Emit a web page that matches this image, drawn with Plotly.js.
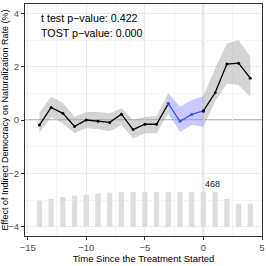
<!DOCTYPE html>
<html><head><meta charset="utf-8">
<script src="https://cdn.plot.ly/plotly-3.0.1.min.js"></script>
<style>body{margin:0;padding:0;}#chart{width:266px;height:266px;}</style>
</head><body><div id="chart"></div>
<script>
const periods = [-14,-13,-12,-11,-10,-9,-8,-7,-6,-5,-4,-3,-2,-1,0,1,2,3,4];
const att   = [-0.19,0.47,0.25,-0.24,0.00,-0.05,-0.09,0.22,-0.36,-0.16,-0.16,0.61,-0.05,0.21,0.34,1.02,2.10,2.13,1.57];
const lower = [-0.48,0.10,-0.12,-0.50,-0.30,-0.35,-0.42,-0.19,-0.69,-0.50,-0.50,0.25,-0.44,-0.19,-0.25,0.69,1.37,1.31,0.87];
const upper = [0.27,0.87,0.65,0.12,0.30,0.30,0.25,0.44,0.00,0.12,0.15,1.00,0.50,0.75,0.90,1.93,2.87,3.00,2.37];
const counts = [352,374,401,419,432,450,459,468,468,468,468,468,468,468,468,468,374,307,307];
const placeboStart = -3, placeboEnd = 0;
const pText1 = "t test p\u2212value: 0.422";
const pText2 = "TOST p\u2212value: 0.000";
const xTicks = [-15,-10,-5,0,5];
const yTicks = [-4,-2,0,2,4];

const barBase = -4, barMaxH = 1.3;
const maxCount = Math.max(...counts);
const F = '"Liberation Sans", Arial, sans-serif';

function seg(a, lo, hi){ const o=[]; periods.forEach((p,i)=>{ if(p>=lo && p<=hi) o.push(a[i]); }); return o; }
function band(lo, hi, color){
  const xs = seg(periods,lo,hi), u = seg(upper,lo,hi), l = seg(lower,lo,hi);
  return {x: xs.concat(xs.slice().reverse()), y: u.concat(l.slice().reverse()), type:'scatter', mode:'lines',
    fill:'toself', fillcolor:color, line:{width:0}, hoverinfo:'skip', showlegend:false};
}
function line(lo, hi, color, mk){
  return {x: seg(periods,lo,hi), y: seg(att,lo,hi), type:'scatter', mode: mk?'lines+markers':'lines',
    line:{color:color, width:1.3}, marker:{size:3, color:color}, showlegend:false};
}
const traces = [
  {x: periods, y: counts.map(c=>c/maxCount*barMaxH), base: barBase, type:'bar', width:0.45,
   marker:{color:'#dedede'}, showlegend:false},
  band(-14, placeboStart, 'rgba(160,160,160,0.45)'),
  band(placeboStart, placeboEnd, 'rgba(120,120,255,0.4)'),
  band(placeboEnd, 4, 'rgba(160,160,160,0.45)'),
  line(-14, placeboStart, '#000000', true),
  line(placeboStart, placeboEnd, '#3355ee', true),
  line(placeboEnd, 4, '#000000', true),
];
const layout = {
  width:266, height:266, margin:{l:25,r:4,t:4,b:30},
  paper_bgcolor:'#ffffff', plot_bgcolor:'#ffffff',
  font:{family:F, size:9, color:'#4d4d4d'},
  xaxis:{range:[-15.23,5.0], tickvals:xTicks, ticktext:xTicks.map(v=>v<0?'\u2212'+(-v):String(v)),
    showgrid:true, gridcolor:'#ebebeb', gridwidth:1,
    minor:{tickvals:[-12.5,-7.5,-2.5,2.5], showgrid:true, gridcolor:'#f4f4f4', ticklen:0},
    showline:true, mirror:true, linecolor:'#333333', linewidth:1, ticks:'outside', ticklen:3, tickcolor:'#333333',
    zeroline:false, tickfont:{size:9.5, color:'#4d4d4d'},
    title:{text:'Time Since the Treatment Started', font:{size:9.5, color:'#000'}, standoff:2}},
  yaxis:{range:[-4.35,4.35], tickvals:yTicks, ticktext:yTicks.map(v=>v<0?'\u2212'+(-v):String(v)),
    showgrid:true, gridcolor:'#ebebeb', gridwidth:1,
    minor:{tickvals:[-3,-1,1,3], showgrid:true, gridcolor:'#f4f4f4', ticklen:0},
    showline:true, mirror:true, linecolor:'#333333', linewidth:1, ticks:'outside', ticklen:3, tickcolor:'#333333',
    zeroline:false, tickfont:{size:9.5, color:'#4d4d4d'},
    title:{text:'Effect of Indirect Democracy on Naturalization Rate (%)', font:{size:9, color:'#000'}, standoff:3}},
  shapes:[
    {type:'line', xref:'x', yref:'paper', x0:0, x1:0, y0:0, y1:1, line:{color:'#aaaaaa', width:1.5}, layer:'below'},
    {type:'line', xref:'paper', yref:'y', x0:0, x1:1, y0:0, y1:0, line:{color:'#aaaaaa', width:1.5}, layer:'below'}
  ],
  annotations:[
    {x:-14.05, y:3.82, xref:'x', yref:'y', text:pText1, showarrow:false, xanchor:'left', yanchor:'middle', font:{size:10.7, color:'#000'}},
    {x:-14.05, y:3.26, xref:'x', yref:'y', text:pText2, showarrow:false, xanchor:'left', yanchor:'middle', font:{size:10.7, color:'#000'}},
    {x:0, y:-2.4, xref:'x', yref:'y', text:String(maxCount), showarrow:false, xanchor:'left', yanchor:'middle', font:{size:9, color:'#222'}}
  ]
};
Plotly.newPlot('chart', traces, layout, {displayModeBar:false, staticPlot:true});
</script></body></html>
